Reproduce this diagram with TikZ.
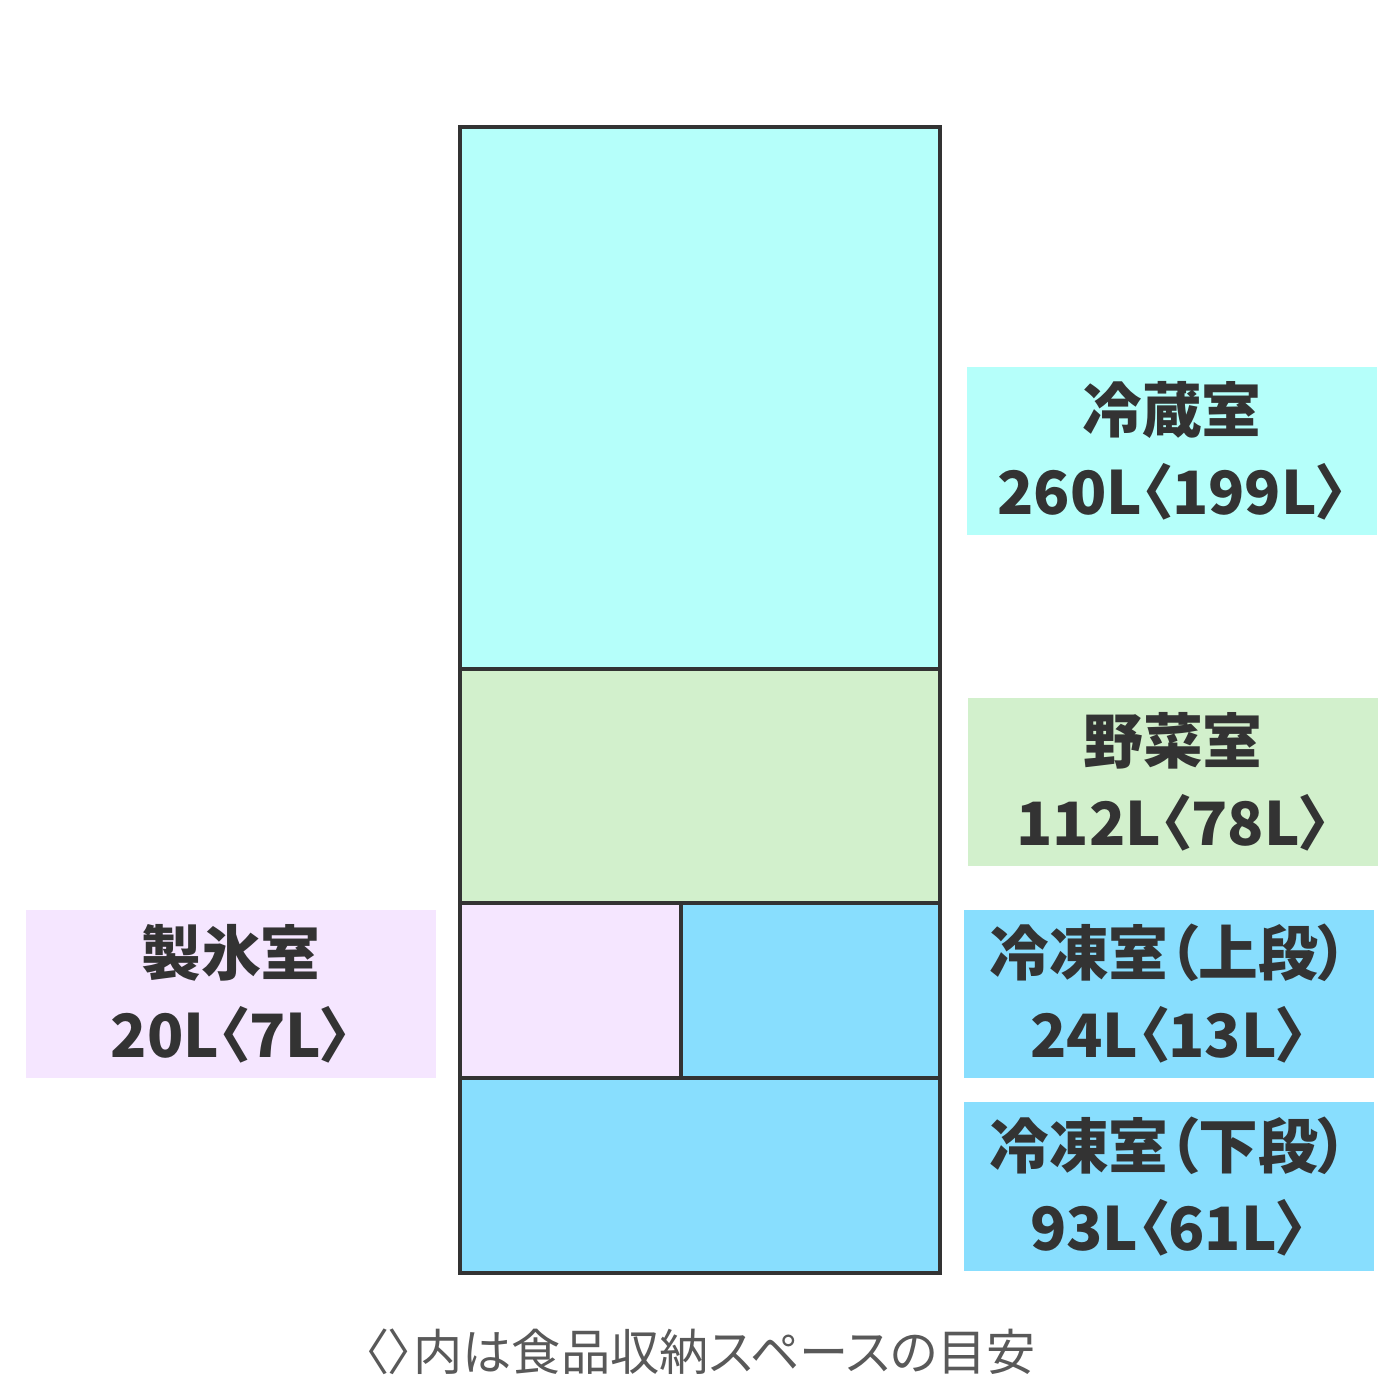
\documentclass[tikz,border=0pt]{standalone}
\usepackage{xcolor}
\usepackage{tikz}
\usepackage{fontspec}
\newfontfamily\cjk{Noto Sans CJK JP}[RawFeature=+palt]
\usetikzlibrary{positioning}

\definecolor{fridgecol}{HTML}{B5FFFA}
\definecolor{vegcol}{HTML}{D2F0CC}
\definecolor{icecol}{HTML}{F5E6FF}
\definecolor{freezecol}{HTML}{88DEFE}
\definecolor{edgecol}{HTML}{333333}
\definecolor{notecol}{HTML}{595959}

\begin{document}
\begin{tikzpicture}[
    room/.style={rectangle,draw=edgecol,line width=1.3pt,inner sep=0pt},
    tag/.style={rectangle,inner sep=0pt,minimum width=4.1cm,minimum height=1.68cm,align=center,text=edgecol,font=\cjk\bfseries\fontsize{17}{23.3}\selectfont}
]
    \useasboundingbox[fill=white] (0,0) rectangle (14,14);

    % Kuehlschrank
    \node[room,fill=fridgecol,minimum width=4.8cm,minimum height=5.42cm] (fridge) at (7,10.02) {};
    \node[room,fill=vegcol,minimum width=4.8cm,minimum height=2.34cm] (veg) at (7,6.14) {};
    \node[room,fill=icecol,minimum width=2.21cm,minimum height=1.75cm] (ice) at (5.705,4.095) {};
    \node[room,fill=freezecol,minimum width=2.59cm,minimum height=1.75cm] (upper) at (8.105,4.095) {};
    \node[room,fill=freezecol,minimum width=4.8cm,minimum height=1.95cm] (lower) at (7,2.245) {};

    % Beschriftungen
    \node[tag,fill=fridgecol] (fridget) at (11.72,9.49) {冷蔵室\\260L〈199L〉};
    \node[tag,fill=vegcol] (vegt) at (11.73,6.18) {野菜室\\112L〈78L〉};
    \node[tag,fill=icecol] (icet) at (2.31,4.06) {製氷室\\20L〈7L〉};
    \node[tag,fill=freezecol] (uppert) at (11.685,4.06) {冷凍室（上段）\\24L〈13L〉};
    \node[tag,fill=freezecol,minimum height=1.69cm] (lowert) at (11.685,2.135) {冷凍室（下段）\\93L〈61L〉};

    % Fussnote
    \node[text=notecol,font=\cjk\fontsize{14}{16}\selectfont] (note) at (7,0.48) {〈〉内は食品収納スペースの目安};
\end{tikzpicture}
\end{document}
